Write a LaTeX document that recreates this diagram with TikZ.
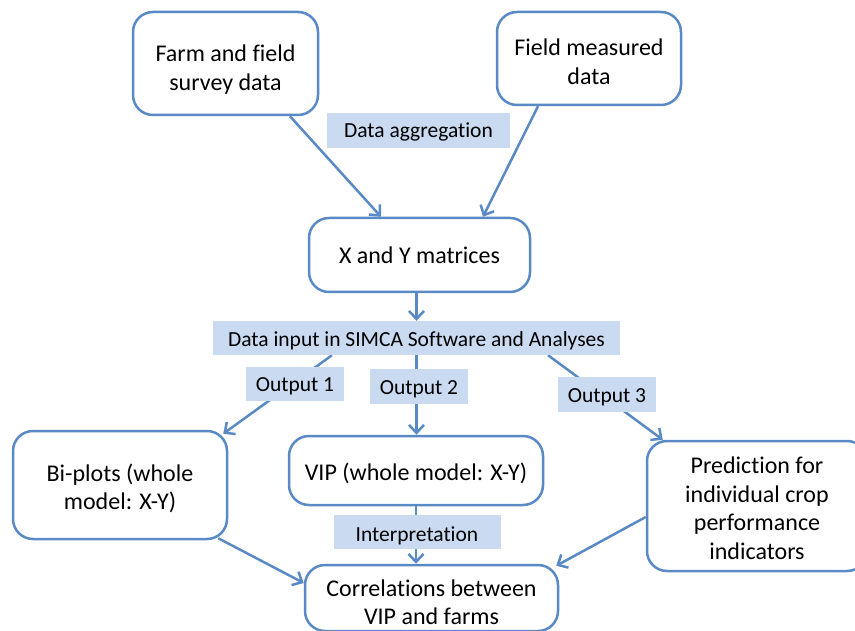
\documentclass[tikz,border=0pt]{standalone}
\usepackage{fontspec}
\setmainfont{Carlito}[Ligatures={NoCommon}]
\usetikzlibrary{arrows.meta,calc,backgrounds}
\definecolor{bordblue}{HTML}{5A8AC6}
\definecolor{labfill}{HTML}{C9DAF1}
\newcommand{\dn}[2]{\raisebox{-#1}[\height][\depth]{\begin{tabular}{@{}c@{}}#2\end{tabular}}}
\tikzset{
  box/.style={draw=bordblue,line width=2.5pt,rounded corners=20pt,fill=white,align=center,
    font=\fontsize{24}{28.5}\selectfont,inner sep=0pt},
  lab/.style={fill=labfill,draw=none,align=center,font=\fontsize{21.5}{25}\selectfont,inner sep=0pt},
  conn/.style={draw=bordblue,line width=2.5pt,-{Straight Barb[length=8pt,width=15pt,line width=2.5pt]}},
}
\begin{document}
\begin{tikzpicture}[x=1pt,y=-1pt]
\useasboundingbox (0,0) rectangle (855,631);
\clip (0,0) rectangle (855,631);
\node[box,minimum width=185pt,minimum height=103pt] (farm) at (225.5,63.5) {\dn{7pt}{Farm and field\\survey data}};
\node[box,minimum width=184pt,minimum height=93pt] (field) at (589,58.5) {\dn{6pt}{Field measured\\data}};
\node[box,minimum width=221pt,minimum height=74pt] (xy) at (419.5,255) {\dn{3pt}{X and Y matrices}};
\node[lab,minimum width=183pt,minimum height=35pt] (agg) at (418.5,130.5) {\dn{2pt}{Data aggregation}};
\node[lab,minimum width=407pt,minimum height=34pt] (input) at (416.5,338) {\dn{4pt}{Data input in SIMCA Software and Analyses}};
\node[lab,minimum width=98pt,minimum height=34pt] (out1) at (295,384) {\dn{3pt}{Output 1}};
\node[lab,minimum width=98pt,minimum height=35pt] (out2) at (419,386.5) {\dn{3pt}{Output 2}};
\node[lab,minimum width=98pt,minimum height=35pt] (out3) at (607,394.5) {\dn{3pt}{Output 3}};
\node[box,minimum width=214pt,minimum height=108pt] (bi) at (120,485) {\dn{5pt}{Bi-plots (whole\\model: X-Y)}};
\node[box,minimum width=254pt,minimum height=69pt] (vip) at (416,470.5) {\dn{4pt}{VIP (whole model: X-Y)}};
\node[lab,minimum width=167pt,minimum height=34pt] (interp) at (417,532) {\dn{4pt}{Interpretation}};
\node[box,minimum width=253pt,minimum height=66pt] (corr) at (431.5,598) {\dn{7pt}{Correlations between\\VIP and farms}};
\node[box,minimum width=220pt,minimum height=130pt] (pred) at (757,506) {\dn{5pt}{Prediction for\\individual crop\\performance\\indicators}};
\begin{pgfonlayer}{background}
\draw[conn] ($(farm.south)+(64.5,0)$) -- ($(xy.north)+(-38.5,0)$);
\draw[conn] ($(field.south)+(-51,0)$) -- ($(xy.north)+(63.5,0)$);
\draw[conn] (input.north |- xy.south) -- (input.north);
\draw[conn] ($(input.south)+(-84.5,0)$) -- ($(bi.north east)+(-5,4)$);
\draw[conn] (input.south) -- (input.south |- vip.north);
\draw[conn] ($(input.south)+(131.5,0)$) -- ($(pred.north west)+(17,0)$);
\draw[conn] ($(bi.south east)+(-10,-2)$) -- ($(corr.west)+(0,-15)$);
\draw[conn] (vip.south) -- (vip.south |- corr.north);
\draw[conn] ($(pred.west)+(0,11)$) -- ($(corr.north east)+(-3,2)$);
\end{pgfonlayer}
\end{tikzpicture}
\end{document}
